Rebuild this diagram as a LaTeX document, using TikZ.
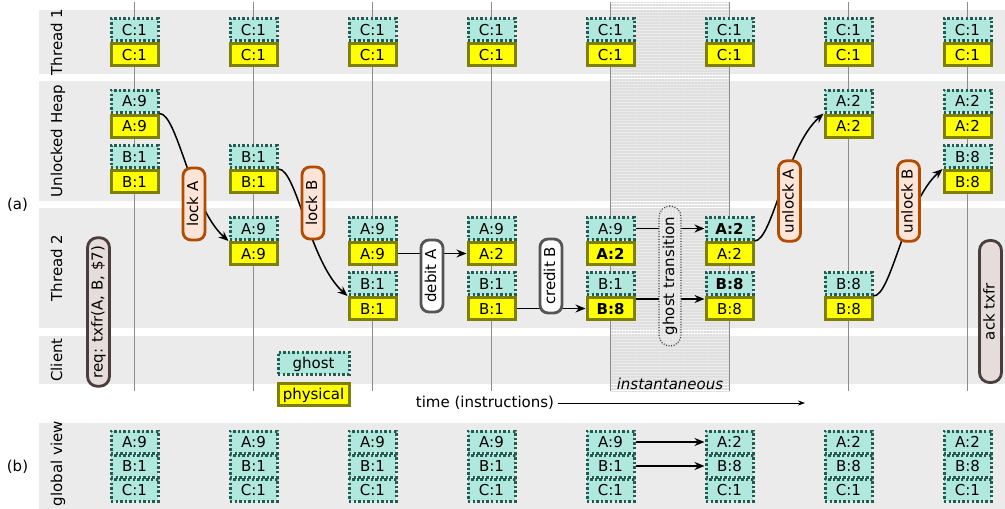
\documentclass[tikz,border=0pt]{standalone}
\usepackage{fontspec}
\setmainfont{DejaVu Sans}
\usetikzlibrary{arrows.meta,patterns.meta}

\definecolor{lanegray}{HTML}{EBEBEB}
\definecolor{ghostfill}{HTML}{B0E8DE}
\definecolor{ghostline}{HTML}{1F5C52}
\definecolor{physfill}{HTML}{FFFF00}
\definecolor{physline}{HTML}{808000}
\definecolor{lockline}{HTML}{B24A00}
\definecolor{lockfill}{HTML}{FDE4D6}
\definecolor{opline}{HTML}{555555}
\definecolor{msgline}{HTML}{4A3D3D}
\definecolor{msgfill}{HTML}{E6DCDC}

\begin{document}
\begin{tikzpicture}[x=1pt,y=-1pt,
  font=\fontsize{15pt}{18pt}\selectfont,
  lane/.style={fill=lanegray},
  lanelbl/.style={rotate=90, inner sep=0pt, text height=11pt, text depth=3pt},
  ghost/.style={draw=ghostline, fill=ghostfill, line width=3pt, dash pattern=on 2.4pt off 2.2pt,
    minimum width=47pt, minimum height=22pt, inner sep=0pt, text height=11pt, text depth=0pt},
  phys/.style={draw=physline, fill=physfill, line width=3pt,
    minimum width=47pt, minimum height=22pt, inner sep=0pt, text height=11pt, text depth=0pt},
  timeline/.style={draw=black!45, line width=1.6pt},
  hatch/.style={pattern={Lines[angle=0,distance=3pt,line width=1.2pt]}, pattern color=black!13},
  act/.style={rotate=90, rounded corners=8pt, line width=2.8pt, minimum width=72pt, minimum height=22pt,
    inner xsep=8pt, inner ysep=2pt, text height=11pt, text depth=3pt},
  lockop/.style={act, draw=lockline, fill=lockfill},
  dataop/.style={act, draw=opline, fill=white},
  msg/.style={act, draw=msgline, fill=msgfill, minimum width=142pt, rounded corners=10pt},
  ghostop/.style={draw=black!75, line width=1.2pt, dash pattern=on 1pt off 1.6pt, rounded corners=11pt,
    minimum width=22pt, minimum height=140pt, inner sep=0pt, preaction={fill=lanegray}, hatch},
  link/.style={line width=1.5pt, -{Stealth[length=10pt, width=8pt]}},
]
\useasboundingbox (0,0) rectangle (1005,509);

% swim lanes
\fill[lane] (39,10) rectangle (1005,74);
\fill[lane] (39,81) rectangle (1005,201);
\fill[lane] (39,208) rectangle (1005,328);
\fill[lane] (39,336) rectangle (1005,384);
\fill[lane] (39,423) rectangle (1005,509);

\node[lanelbl] (lthreadA) at (58,42) {Thread 1};
\node[lanelbl] (lheap) at (58,141) {Unlocked Heap};
\node[lanelbl] (lthreadB) at (58,268) {Thread 2};
\node[lanelbl] (lclient) at (58,360) {Client};
\node[lanelbl, anchor=east] (lglobal) at (58,421) {global view};
\node (parta) at (17.5,205) {(a)};
\node (partb) at (17.5,467) {(b)};

% instantaneous step
\fill[hatch] (610.5,2) rectangle (729.5,391);
\foreach \i [evaluate=\i as \x using 134.5+119*(\i-1)] in {1,...,8}
  \draw[timeline] (\x,2) -- (\x,391);

% thread 1
\foreach \i [evaluate=\i as \x using 134.5+119*(\i-1)] in {1,...,8} {
  \node[phys] (cp\i) at (\x,54.5) {C:1};
  \node[ghost] (cg\i) at (\x,29.5) {C:1};
}

% unlocked heap
\foreach \i/\v [evaluate=\i as \x using 134.5+119*(\i-1)] in {1/9,7/2,8/2} {
  \node[phys] (hap\i) at (\x,126) {A:\v};
  \node[ghost] (hag\i) at (\x,101) {A:\v};
}
\foreach \i/\v [evaluate=\i as \x using 134.5+119*(\i-1)] in {1/1,2/1,8/8} {
  \node[phys] (hbp\i) at (\x,181.5) {B:\v};
  \node[ghost] (hbg\i) at (\x,156.5) {B:\v};
}

% thread 2
\foreach \i/\g/\p [evaluate=\i as \x using 134.5+119*(\i-1)] in
    {2/A:9/A:9, 3/A:9/A:9, 4/A:9/A:2, 5/A:9/\textbf{A:2}, 6/\textbf{A:2}/A:2} {
  \node[phys] (tap\i) at (\x,253.5) {\p};
  \node[ghost] (tag\i) at (\x,228.5) {\g};
}
\foreach \i/\g/\p [evaluate=\i as \x using 134.5+119*(\i-1)] in
    {3/B:1/B:1, 4/B:1/B:1, 5/B:1/\textbf{B:8}, 6/\textbf{B:8}/B:8, 7/B:8/B:8} {
  \node[phys] (tbp\i) at (\x,308.5) {\p};
  \node[ghost] (tbg\i) at (\x,283.5) {\g};
}

% legend
\node[ghost, minimum width=71pt] (keyghost) at (313.5,363) {ghost};
\node[phys, minimum width=71pt] (keyphys) at (313.5,394) {physical};

% global view
\foreach \i/\a/\b [evaluate=\i as \x using 134.5+119*(\i-1)] in
    {1/9/1, 2/9/1, 3/9/1, 4/9/1, 5/9/1, 6/2/8, 7/2/8, 8/2/8} {
  \node[ghost] (vc\i) at (\x,490) {C:1};
  \node[ghost] (vb\i) at (\x,466) {B:\b};
  \node[ghost] (va\i) at (\x,442) {A:\a};
}

% transitions
\draw[link] (hag1.south east) .. controls +(18,0) and +(-38,-34) .. (tag2.south west);
\draw[link] (hbg2.south east) .. controls +(18,0) and +(-38,-34) .. (tbg3.south west);
\draw[link] (tap3.east) -- (tap4.west);
\draw[link] (tbp4.east) -- (tbp5.west);
\draw[link] (tag5.east) -- (tag6.west);
\draw[link] ([yshift=-3pt]tbg5.south east) -- ([yshift=-3pt]tbg6.south west);
\draw[link] (tap6.north east) .. controls +(18,0) and +(-38,34) .. (hag7.south west);
\draw[link] (tbg7.south east) .. controls +(18,0) and +(-38,34) .. (hbg8.south west);
\draw[link] (va5.east) -- (va6.west);
\draw[link] (vb5.east) -- (vb6.west);

\node[lockop] (lockA) at (194,204) {lock A};
\node[lockop] (lockB) at (313,203) {lock B};
\node[dataop] (debitA) at (432,276) {debit A};
\node[dataop] (creditB) at (551,276) {credit B};
\node[ghostop] (gtrans) at (670,276) {\rotatebox{90}{ghost transition}};
\node[lockop] (unlockA) at (789.5,201) {unlock A};
\node[lockop] (unlockB) at (908.5,201) {unlock B};
\node[msg] (req) at (98.5,312) {req: txfr(A, B, \$7)};
\node[msg] (ack) at (990.5,311.5) {ack txfr};

\node[font=\fontsize{15pt}{18pt}\selectfont\itshape] (inst) at (670,384) {instantaneous};
\node (timelbl) at (485,403) {time (instructions)};
\coordinate (timeend) at (805,403);
\draw[line width=0.8pt, -{Stealth[length=7pt, width=5pt]}] (timelbl.east) -- (timeend);
\end{tikzpicture}
\end{document}
